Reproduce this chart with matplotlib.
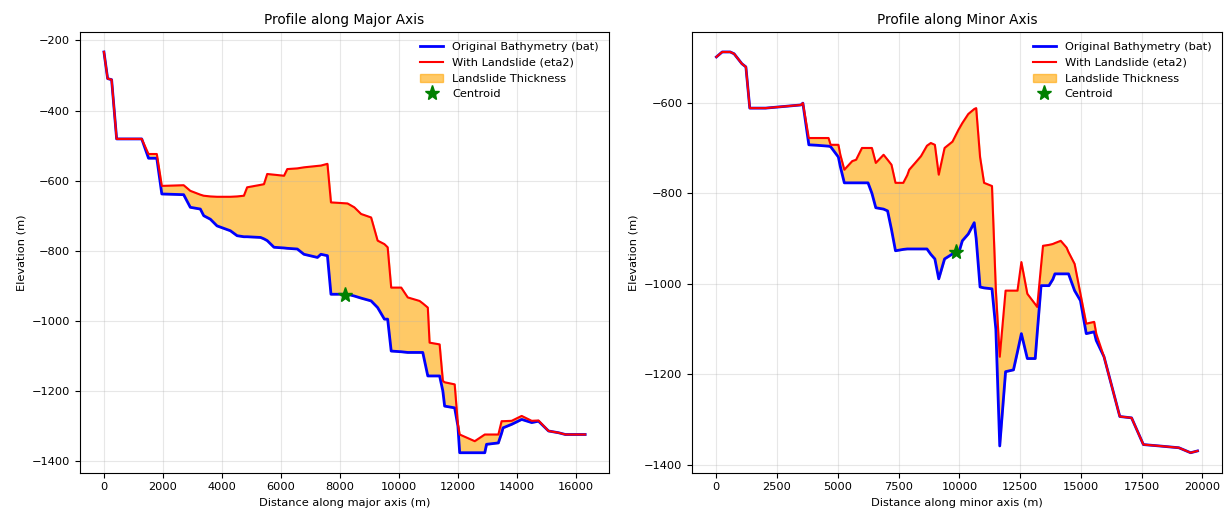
import numpy as np
import matplotlib
matplotlib.use("Agg")
import matplotlib.pyplot as plt

# --- Perfil eixo maior ---
dist_maior = [0, 125, 260, 430, 1280, 1510, 1790, 1960, 2700, 2925, 3265, 3380, 3605,
              3830, 4285, 4510, 4740, 4850, 5305, 5420, 5530, 5760, 6100, 6210, 6550,
              6775, 7230, 7350, 7570, 7690, 8250, 8480, 8710, 9050, 9270, 9500, 9610,
              9730, 10070, 10290, 10690, 10800, 10970, 11030, 11370, 11480, 11540,
              11880, 11990, 12050, 12560, 12900, 12960, 13360, 13470, 13520, 13810,
              14150, 14490, 14720, 15060, 15400, 15630, 16300]
bat_maior = [-233, -309, -312, -481, -481, -536, -536, -638, -640, -676, -681, -700, -710,
             -729, -743, -757, -760, -760, -762, -766, -771, -790, -792, -793, -795,
             -810, -819, -810, -814, -924, -924, -929, -935, -943, -962, -995, -995,
             -1086, -1088, -1090, -1090, -1090, -1157, -1157, -1157, -1200, -1243,
             -1248, -1300, -1376, -1376, -1376, -1352, -1348, -1320, -1305, -1295,
             -1281, -1290, -1286, -1314, -1319, -1324, -1324]
eta_maior = [-233, -309, -312, -481, -481, -524, -524, -615, -613, -629, -640, -643, -645,
             -646, -646, -645, -643, -619, -612, -610, -581, -583, -586, -567, -565,
             -562, -558, -557, -552, -662, -665, -676, -695, -705, -771, -781, -790,
             -905, -905, -933, -943, -950, -962, -1062, -1067, -1171, -1175,
             -1181, -1295, -1324, -1343, -1324, -1324, -1324, -1286, -1286, -1285,
             -1271, -1285, -1284, -1314, -1319, -1324, -1324]
centroide_maior = (8180, -927)

# --- Perfil eixo menor ---
dist_menor = [0, 240, 570, 730, 890, 1050, 1215, 1375, 2025, 3480, 3560, 3805, 4130,
              4615, 4700, 5020, 5100, 5265, 5590, 5750, 5990, 6240, 6400, 6560, 6880,
              7045, 7205, 7370, 7690, 7855, 7935, 8180, 8420, 8665, 8825, 8990, 9150,
              9390, 9715, 9960, 10120, 10365, 10610, 10690, 10850, 11015, 11340, 11500,
              11660, 11900, 12225, 12390, 12550, 12795, 13120, 13200, 13360, 13440,
              13685, 13845, 13930, 14170, 14410, 14490, 14740, 14980, 15220, 15545,
              15630, 15950, 16275, 16600, 17085, 17570, 18220, 19030, 19515, 19800]
bat_menor = [-499, -488, -488, -492, -503, -514, -521, -612, -612, -605, -601, -693, -694,
             -696, -697, -720, -741, -777, -777, -777, -777, -777, -800, -832, -835,
             -839, -880, -927, -924, -923, -923, -923, -923, -923, -935, -945, -989,
             -945, -934, -934, -905, -890, -865, -900, -1007, -1009, -1011, -1100,
             -1358, -1194, -1190, -1150, -1110, -1165, -1165, -1110, -1004, -1004,
             -1004, -990, -978, -978, -978, -978, -1015, -1037, -1110, -1106,
             -1125, -1161, -1227, -1293, -1296, -1355, -1358, -1362, -1373, -1369]
eta_menor = [-499, -488, -488, -492, -503, -514, -521, -612, -612, -605, -601, -678, -678,
             -678, -693, -693, -715, -748, -729, -726, -700, -700, -700, -733, -715,
             -726, -737, -777, -777, -760, -748, -733, -718, -695, -689, -693, -759,
             -700, -686, -660, -645, -625, -614, -612, -720, -777, -784, -1015,
             -1161, -1015, -1015, -1015, -952, -1022, -1045, -1051, -960, -916,
             -914, -912, -910, -905, -920, -930, -956, -1022, -1088, -1084,
             -1110, -1161, -1227, -1293, -1296, -1355, -1358, -1362, -1373, -1369]
centroide_menor = (9880, -930)

perfis = [
    ("Profile along Major Axis", "Distance along major axis (m)",
     dist_maior, bat_maior, eta_maior, centroide_maior),
    ("Profile along Minor Axis", "Distance along minor axis (m)",
     dist_menor, bat_menor, eta_menor, centroide_menor),
]

plt.rcParams["font.size"] = 8.2

fig, axes = plt.subplots(1, 2, figsize=(12.29, 5.15), dpi=100)
fig.subplots_adjust(left=0.065, right=0.994, top=0.938, bottom=0.082, wspace=0.157)

for ax, (titulo, xlabel, dist, bat, eta, cent) in zip(axes, perfis):
    dist = np.array(dist)
    bat = np.array(bat)
    eta = np.array(eta)
    ax.plot(dist, bat, "b-", linewidth=2, label="Original Bathymetry (bat)")
    ax.plot(dist, eta, "r-", linewidth=1.5, label="With Landslide (eta2)")
    ax.fill_between(dist, bat, eta, where=eta > bat, color="orange", alpha=0.6,
                    label="Landslide Thickness")
    ax.plot(cent[0], cent[1], "g*", markersize=11, label="Centroid")
    ax.set_title(titulo, fontsize=9.8)
    ax.set_xlabel(xlabel)
    ax.set_ylabel("Elevation (m)")
    ax.grid(True, alpha=0.3)
    ax.legend(loc="upper right", fontsize=8.2, frameon=False)

plt.savefig("out.png", dpi=100)
plt.close()
